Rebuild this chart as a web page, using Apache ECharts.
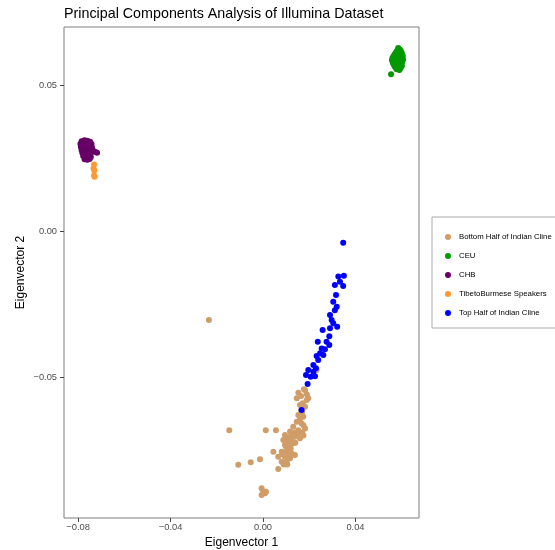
<!DOCTYPE html>
<html>
<head>
<meta charset="utf-8">
<script src="https://cdn.jsdelivr.net/npm/echarts@6/dist/echarts.min.js"></script>
<style>
html,body{margin:0;padding:0;background:#fff;}
#c{width:555px;height:550px;}
</style>
</head>
<body>
<div id="c"></div>
<script>
const seriesNames = ["Bottom Half of Indian Cline","CEU","CHB","TibetoBurmese Speakers","Top Half of Indian Cline"];
const seriesColors = ["#D09C68","#009900","#660066","#FF9933","#0000FF"];
const xTicks = [-0.08,-0.04,0.00,0.04];
const yTicks = [-0.05,0.00,0.05];

const bottomHalf = [
[0.0153,-0.0554],[0.0182,-0.0545],[0.0177,-0.0542],[0.0146,-0.0573],[0.0189,-0.0579],[0.0196,-0.0573],
[0.0160,-0.0596],[0.0182,-0.0602],[0.0153,-0.0630],[0.0174,-0.0636],[0.0146,-0.0653],[0.0167,-0.0659],
[0.0182,-0.0676],[0.0131,-0.0670],[0.0153,-0.0682],[0.0117,-0.0687],[-0.0146,-0.0682],[0.0012,-0.0682],
[0.0056,-0.0682],[0.0095,-0.0699],[0.0117,-0.0705],[0.0138,-0.0705],[0.0160,-0.0710],[0.0088,-0.0716],
[0.0110,-0.0721],[0.0131,-0.0727],[0.0095,-0.0733],[0.0117,-0.0739],[0.0045,-0.0756],[0.0081,-0.0756],
[0.0102,-0.0756],[0.0124,-0.0762],[0.0066,-0.0773],[0.0095,-0.0773],[0.0117,-0.0778],[0.0138,-0.0767],
[0.0081,-0.0790],[0.0102,-0.0790],[-0.0013,-0.0782],[-0.0053,-0.0792],[-0.0107,-0.0801],[0.0066,-0.0815],
[-0.0006,-0.0881],[0.0001,-0.0893],[0.0009,-0.0898],[-0.0006,-0.0904],[0.0013,-0.0893],[-0.0234,-0.0305],
[0.0232,-0.0476],[0.0165,-0.0565],[0.0172,-0.0590],[0.0165,-0.0615],[0.0160,-0.0645],[0.0175,-0.0665],
[0.0140,-0.0690],[0.0125,-0.0695],[0.0105,-0.0710],[0.0140,-0.0725],[0.0120,-0.0745],[0.0100,-0.0740],
[0.0085,-0.0765],[0.0110,-0.0765],[0.0125,-0.0720],[0.0150,-0.0695],[0.0170,-0.0690],[0.0105,-0.0800],
[0.0090,-0.0800],[0.0190,-0.0560],[0.0170,-0.0620],[0.0175,-0.0700]
];
const ceu = [
[0.0585,0.0627],[0.0592,0.0622],[0.0580,0.0618],[0.0597,0.0616],
[0.0575,0.0612],[0.0588,0.0611],[0.0601,0.0609],[0.0570,0.0606],[0.0582,0.0604],[0.0594,0.0603],[0.0605,0.0600],
[0.0565,0.0600],[0.0576,0.0597],[0.0588,0.0596],[0.0599,0.0594],[0.0560,0.0593],[0.0571,0.0590],[0.0583,0.0589],
[0.0595,0.0587],[0.0606,0.0588],[0.0558,0.0585],[0.0566,0.0582],[0.0578,0.0581],[0.0590,0.0580],[0.0602,0.0579],
[0.0562,0.0576],[0.0573,0.0574],[0.0585,0.0573],[0.0597,0.0572],[0.0567,0.0568],[0.0579,0.0566],[0.0591,0.0565],
[0.0601,0.0566],[0.0572,0.0561],[0.0584,0.0559],[0.0595,0.0558],[0.0578,0.0554],[0.0590,0.0552],[0.0554,0.0537]
];
const chb = [
[-0.0785,0.0308],[-0.0772,0.0311],[-0.0760,0.0309],[-0.0748,0.0306],
[-0.0790,0.0298],[-0.0778,0.0300],[-0.0766,0.0299],[-0.0754,0.0297],[-0.0742,0.0298],
[-0.0788,0.0288],[-0.0776,0.0290],[-0.0764,0.0287],[-0.0752,0.0289],[-0.0740,0.0286],
[-0.0785,0.0278],[-0.0772,0.0280],[-0.0760,0.0277],[-0.0748,0.0279],[-0.0735,0.0276],[-0.0718,0.0268],[-0.0725,0.0271],
[-0.0782,0.0268],[-0.0770,0.0266],[-0.0758,0.0268],[-0.0746,0.0265],
[-0.0778,0.0257],[-0.0766,0.0255],[-0.0754,0.0258],[-0.0745,0.0254],
[-0.0772,0.0246],[-0.0760,0.0244],[-0.0750,0.0247]
];
const tibeto = [[-0.0731,0.0228],[-0.0733,0.0215],[-0.0730,0.0207],[-0.0731,0.0190],[-0.0729,0.0186]];
const topHalf = [
[0.0347,-0.0040],[0.0326,-0.0156],[0.0350,-0.0153],[0.0347,-0.0188],[0.0333,-0.0174],[0.0311,-0.0185],
[0.0316,-0.0219],[0.0304,-0.0242],[0.0319,-0.0259],[0.0311,-0.0271],[0.0290,-0.0288],[0.0297,-0.0305],
[0.0304,-0.0316],[0.0321,-0.0328],[0.0290,-0.0333],[0.0258,-0.0339],[0.0287,-0.0360],[0.0237,-0.0379],
[0.0275,-0.0379],[0.0287,-0.0390],[0.0254,-0.0402],[0.0268,-0.0405],[0.0247,-0.0419],[0.0261,-0.0425],
[0.0232,-0.0428],[0.0239,-0.0442],[0.0218,-0.0459],[0.0229,-0.0470],[0.0196,-0.0476],[0.0218,-0.0482],
[0.0186,-0.0493],[0.0206,-0.0499],[0.0225,-0.0497],[0.0193,-0.0524],[0.0167,-0.0613]
];
const allData = [bottomHalf, ceu, chb, tibeto, topHalf];

const fmt = v => {
  const s = Math.abs(v).toFixed(2);
  return (v < -1e-9 ? "\u2212" : "") + s;
};

const chart = echarts.init(document.getElementById('c'), null, {renderer:'canvas'});
const FONT = "'Liberation Sans', Arial, Helvetica, sans-serif";
chart.setOption({
  backgroundColor: '#ffffff',
  animation: false,
  textStyle: {fontFamily: FONT},
  title: {
    text: 'Principal Components Analysis of Illumina Dataset',
    left: 59, top: 2,
    textStyle: {fontSize: 14.3, fontWeight: 'normal', color: '#000', fontFamily: FONT}
  },
  grid: {left: 64, top: 27, right: 136, bottom: 32, show: true, borderColor: '#7f7f7f', borderWidth: 1,
         backgroundColor: '#fff', outerBoundsMode: 'none', containLabel: false},
  legend: {
    orient: 'vertical',
    left: 432, top: 217,
    data: seriesNames,
    icon: 'circle',
    itemWidth: 12, itemHeight: 6,
    itemGap: 9,
    padding: [15, 60, 10, 13],
    borderColor: '#aaaaaa', borderWidth: 1,
    textStyle: {fontSize: 7.8, color: '#000', lineHeight: 10, fontFamily: FONT}
  },
  xAxis: {
    type: 'value', min: -0.0861, max: 0.0675,
    name: 'Eigenvector 1', nameLocation: 'middle', nameGap: 19, nameMoveOverlap: false,
    nameTextStyle: {fontSize: 12, color: '#000', fontFamily: FONT},
    axisLine: {show: false, onZero: false},
    splitLine: {show: false},
    axisTick: {show: true, inside: false, length: 4, customValues: xTicks, lineStyle: {color: '#444', width: 1}},
    axisLabel: {customValues: xTicks, formatter: fmt, fontSize: 9.3, color: '#4d4d4d', margin: 5, fontFamily: FONT}
  },
  yAxis: {
    type: 'value', min: -0.0983, max: 0.0699,
    name: 'Eigenvector 2', nameLocation: 'middle', nameGap: 37, nameRotate: 90, nameMoveOverlap: false,
    nameTextStyle: {fontSize: 12, color: '#000', fontFamily: FONT},
    axisLine: {show: false, onZero: false},
    splitLine: {show: false},
    axisTick: {show: true, inside: false, length: 4, customValues: yTicks, lineStyle: {color: '#444', width: 1}},
    axisLabel: {customValues: yTicks, formatter: fmt, fontSize: 9.3, color: '#4d4d4d', margin: 7, fontFamily: FONT}
  },
  series: seriesNames.map((n, i) => ({
    name: n, type: 'scatter', data: allData[i],
    symbol: 'circle', symbolSize: 6,
    itemStyle: {color: seriesColors[i], opacity: 1},
    emphasis: {disabled: true}
  }))
});
</script>
</body>
</html>
